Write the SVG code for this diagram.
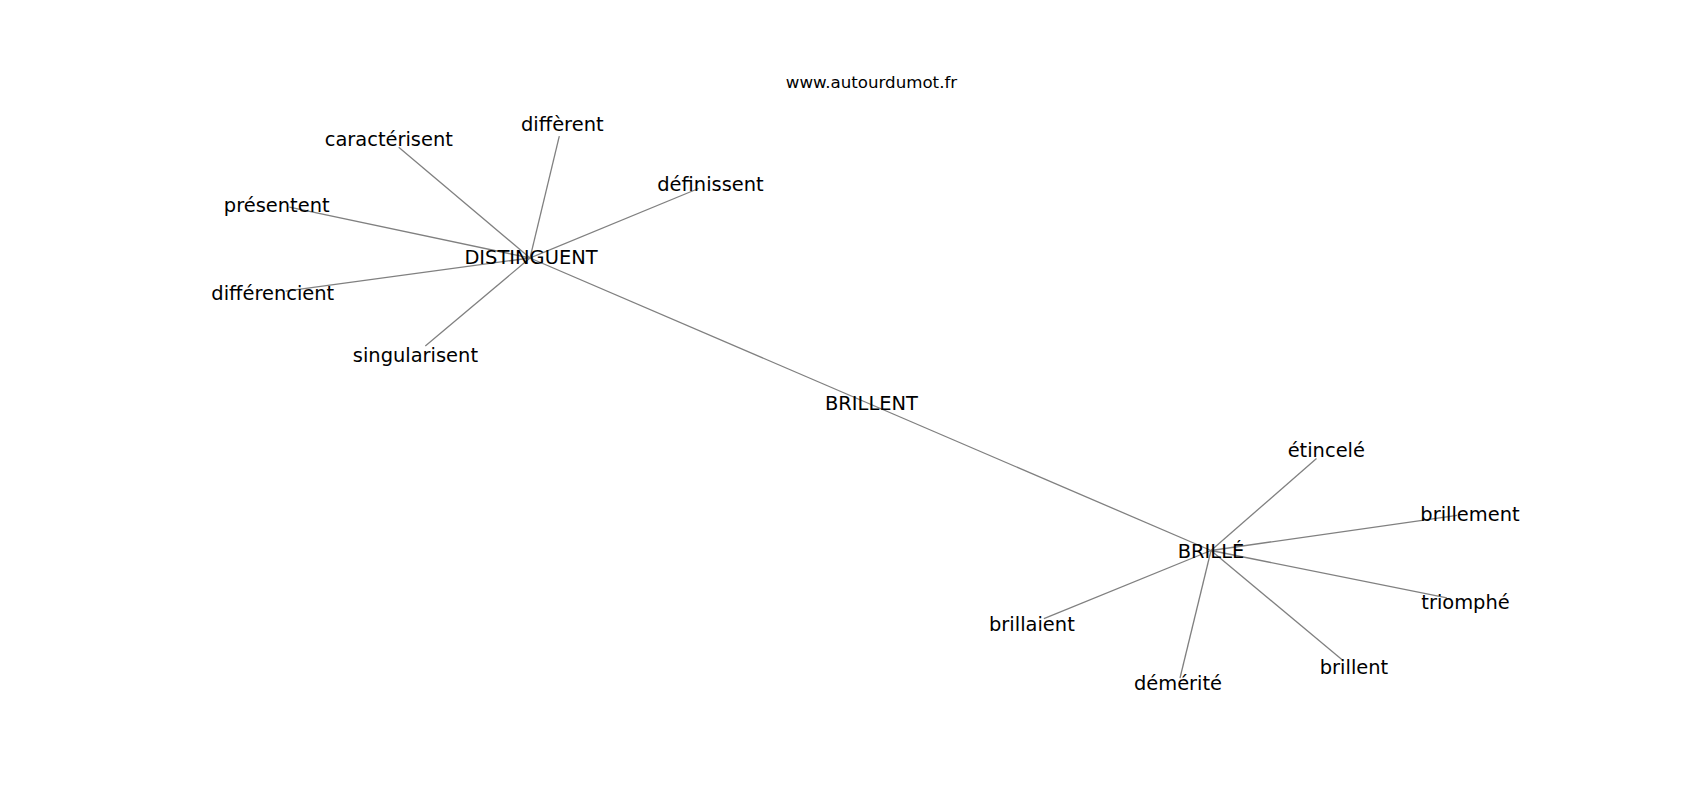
<svg xmlns="http://www.w3.org/2000/svg" width="1700" height="800" viewBox="0 0 1700 800">
<style>
.bg{fill:#ffffff}
.edge{stroke:#808080;stroke-width:1.3;fill:none;stroke-linecap:butt}
.lbl{font-family:"DejaVu Sans","Liberation Sans",sans-serif;font-size:19.44px;fill:#000000;text-anchor:middle}
.url{font-family:"DejaVu Sans","Liberation Sans",sans-serif;font-size:16.67px;fill:#000000;text-anchor:middle}
</style>
<rect class="bg" x="0" y="0" width="1700" height="800"/>
<text class="url" x="871.5" y="88">www.autourdumot.fr</text>
<g id="edges">
<line class="edge" x1="530" y1="258" x2="870.5" y2="404.25"/>
<line class="edge" x1="870.5" y1="404.25" x2="1211" y2="550.5"/>
<line class="edge" x1="530" y1="258" x2="398.7" y2="147.2"/>
<line class="edge" x1="530" y1="258" x2="559.3" y2="136.2"/>
<line class="edge" x1="530" y1="258" x2="698.5" y2="188.5"/>
<line class="edge" x1="530" y1="258" x2="289.4" y2="207.2"/>
<line class="edge" x1="530" y1="258" x2="285.7" y2="291.1"/>
<line class="edge" x1="530" y1="258" x2="425.3" y2="346.1"/>
<line class="edge" x1="1211" y1="550.5" x2="1316.5" y2="458.5"/>
<line class="edge" x1="1211" y1="550.5" x2="1457.1" y2="515.3"/>
<line class="edge" x1="1211" y1="550.5" x2="1446.9" y2="597.8"/>
<line class="edge" x1="1211" y1="550.5" x2="1343.3" y2="660.7"/>
<line class="edge" x1="1211" y1="550.5" x2="1180" y2="678"/>
<line class="edge" x1="1211" y1="550.5" x2="1043.9" y2="618.6"/>
</g>
<g id="n-brillent-center"><text class="lbl" x="871.5" y="410">BRILLENT</text></g>
<g id="n-distinguent"><text class="lbl" x="531" y="264">DISTINGUENT</text></g>
<g id="n-brille"><text class="lbl" x="1211" y="557.7">BRILLÉ</text></g>
<g id="n-caracterisent"><text class="lbl" x="388.8" y="146.3">caractérisent</text></g>
<g id="n-different"><text class="lbl" x="562.3" y="131">diffèrent</text></g>
<g id="n-definissent"><text class="lbl" x="710.5" y="190.8">définissent</text></g>
<g id="n-presentent"><text class="lbl" x="276.7" y="211.8">présentent</text></g>
<g id="n-differencient"><text class="lbl" x="272.8" y="300.2">différencient</text></g>
<g id="n-singularisent"><text class="lbl" x="415.4" y="362">singularisent</text></g>
<g id="n-etincele"><text class="lbl" x="1326.3" y="457.3">étincelé</text></g>
<g id="n-brillement"><text class="lbl" x="1470" y="520.8">brillement</text></g>
<g id="n-triomphe"><text class="lbl" x="1465.5" y="608.8">triomphé</text></g>
<g id="n-brillent"><text class="lbl" x="1354" y="674.2">brillent</text></g>
<g id="n-demerite"><text class="lbl" x="1178" y="690.2">démérité</text></g>
<g id="n-brillaient"><text class="lbl" x="1031.9" y="630.8">brillaient</text></g>
</svg>
